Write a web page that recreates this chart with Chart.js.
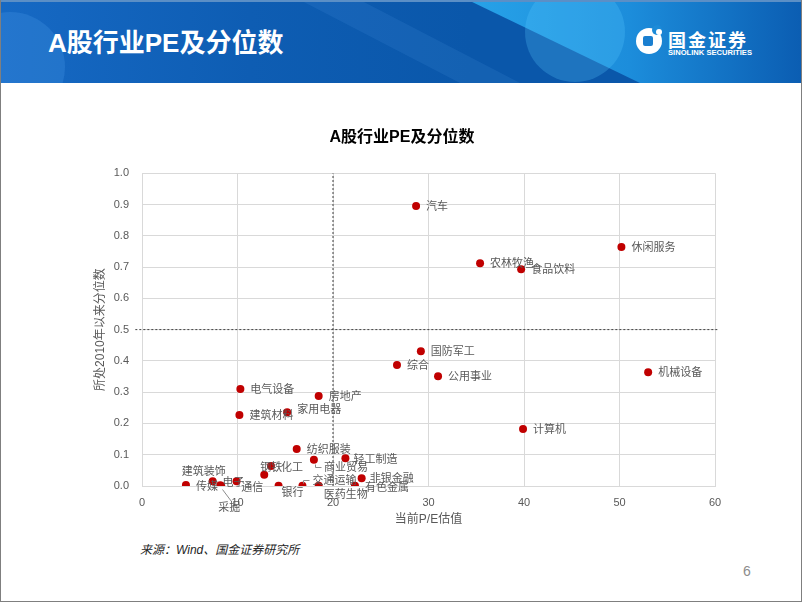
<!DOCTYPE html>
<html><head><meta charset="utf-8">
<script src="https://cdn.jsdelivr.net/npm/chart.js@4.4.1/dist/chart.umd.min.js"></script>
<style>
html,body{margin:0;padding:0;background:#fff;}
#slide{position:relative;width:802px;height:602px;overflow:hidden;background:#fff;}
#hdr{position:absolute;left:0;top:0;width:802px;height:83px;overflow:hidden;
 background:linear-gradient(90deg,#1669c4 0px,#0e5db3 250px,#0a57aa 470px,#0a57aa 802px);}
.shape{position:absolute;left:0;top:0;width:802px;height:83px;}
#band{clip-path:polygon(468px 0,802px 0,802px 83px,640px 83px);
 background:linear-gradient(90deg,#0a58ad 0px,#27a2e8 470px,#1c8ddb 630px,#0b5db2 802px);}
#stripe{clip-path:polygon(300px 0,360px 0,520px 83px,460px 83px);background:rgba(120,190,255,0.10);}
#circ{position:absolute;left:525px;top:-18px;width:100px;height:100px;border-radius:50%;background:rgba(90,205,255,0.25);}
#circL{position:absolute;left:-45px;top:12px;width:110px;height:110px;border-radius:50%;background:rgba(70,150,230,0.30);}
#topline{position:absolute;left:0;top:0;width:802px;height:2px;background:#5b8fc6;}
#htitle{position:absolute;left:48px;top:24px;color:#fff;font:bold 26px "Liberation Sans","Noto Sans CJK SC",sans-serif;line-height:38px;white-space:nowrap;}
#logoC{position:absolute;left:636px;top:28px;width:26px;height:26px;border-radius:50%;background:#fff;}
#logoS{position:absolute;left:643px;top:36px;width:10px;height:10px;border-radius:2px;background:#1a7fd0;}
#logoB{position:absolute;left:652px;top:25px;width:10px;height:10px;border-radius:50%;background:#1c8bd8;}
#logoD{position:absolute;left:656px;top:29px;width:6px;height:6px;border-radius:50%;background:#fff;}
#logoT{position:absolute;left:668px;top:28px;color:#fff;font:bold 18px "Noto Sans CJK SC",sans-serif;letter-spacing:2px;line-height:22px;white-space:nowrap;}
#logoE{position:absolute;left:668px;top:48px;color:#fff;font:bold 7.6px "Liberation Sans",sans-serif;line-height:9px;white-space:nowrap;}
#cv{position:absolute;left:0;top:90px;}
#src{position:absolute;left:140px;top:540px;font:italic 12px "Liberation Sans","Noto Sans CJK SC",sans-serif;color:#262626;white-space:nowrap;}
#pg{position:absolute;left:743px;top:563px;font:14px "Liberation Sans",sans-serif;color:#8c8c8c;}
#frame{position:absolute;left:0;top:0;width:802px;height:602px;box-sizing:border-box;border:1px solid #7f7f7f;border-top:none;pointer-events:none;}
</style></head>
<body>
<div id="slide">
 <div id="hdr">
  <div id="circL"></div>
  <div class="shape" id="stripe"></div>
  <div class="shape" id="band"></div>
  <div id="circ"></div>
  <div id="topline"></div>
  <div id="htitle">A股行业PE及分位数</div>
  <div id="logoC"></div><div id="logoS"></div><div id="logoB"></div><div id="logoD"></div>
  <div id="logoT">国金证券</div>
  <div id="logoE">SINOLINK SECURITIES</div>
 </div>
 <canvas id="cv" width="802" height="450"></canvas>
 <div id="src">来源：Wind、国金证券研究所</div>
 <div id="pg">6</div>
 <div id="frame"></div>
</div>
<script>
// ---- data ----
const industries = ['汽车','休闲服务','农林牧渔','食品饮料','国防军工','综合','公用事业','机械设备',
  '电气设备','房地产','建筑材料','家用电器','计算机','纺织服装','商业贸易','轻工制造','化工','钢铁',
  '传媒','建筑装饰','电子','通信','采掘','银行','交通运输','医药生物','有色金属','非银金融'];
const peValues = [28.7,50.2,35.4,39.7,29.2,26.7,31.0,53.0,
  10.3,18.5,10.2,15.2,39.9,16.2,18.0,21.3,13.5,12.8,
  4.6,7.4,9.9,8.2,8.3,14.3,16.8,18.5,22.3,23.0];
const percentiles = [0.895,0.764,0.712,0.693,0.431,0.387,0.351,0.364,
  0.310,0.288,0.227,0.236,0.182,0.118,0.084,0.089,0.064,0.036,
  0.003,0.015,0.015,0.002,0.000,0.001,0.001,0.001,0.001,0.025];
const xTicks = [0,10,20,30,40,50,60];
const yTicks = [0,0.1,0.2,0.3,0.4,0.5,0.6,0.7,0.8,0.9,1.0];
const refPE = 20;                 // vertical reference line (P/E)
const refPct = 0.5;               // horizontal reference line (percentile)
const refPctSpan = [-0.7, 60.3];  // x-extent of the horizontal reference series

// label placement (pixel offsets from the point), kept separate from the data
const labelOffsets = {
  '家用电器':[10,-3], '商业贸易':[10,7], '轻工制造':[8,1], '钢铁':[-4,-8], '化工':[10,1],
  '建筑装饰':[-31,-10], '电子':[-14,1], '通信':[21,1], '采掘':[-3,21], '银行':[3,6],
  '交通运输':[10,-6], '医药生物':[5,8], '有色金属':[10,1], '非银金融':[8,0], '传媒':[10,1]
};
const leaders = {
  '采掘':[[1,3],[10,15]],
  '商业贸易':[[1,4],[1,7],[7,7]],
  '交通运输':[[1,-3],[1,-6],[7,-6]]
};

const points = industries.map((n,i)=>({x:peValues[i], y:percentiles[i]}));

const labelPlugin = {
  id:'pointLabels',
  afterDatasetsDraw(chart){
    const ctx = chart.ctx;
    const meta = chart.getDatasetMeta(0);
    ctx.save();
    ctx.font = '11px "Noto Sans CJK SC", sans-serif';
    ctx.fillStyle = '#595959';
    ctx.textBaseline = 'middle';
    ctx.textAlign = 'left';
    ctx.strokeStyle = '#8c8c8c';
    ctx.lineWidth = 1;
    meta.data.forEach((el,i)=>{
      const name = industries[i];
      const o = labelOffsets[name] || [10,0];
      const L = leaders[name];
      if (L){
        ctx.beginPath();
        L.forEach((p,k)=>{ const px=Math.round(el.x+p[0])+0.5, py=Math.round(el.y+p[1])+0.5; k?ctx.lineTo(px,py):ctx.moveTo(px,py); });
        ctx.stroke();
      }
      ctx.fillText(name, el.x+o[0], el.y+o[1]);
    });
    ctx.restore();
  }
};

Chart.defaults.font.family = '"Liberation Sans", "Noto Sans CJK SC", sans-serif';
Chart.defaults.color = '#595959';

new Chart(document.getElementById('cv'), {
  type:'scatter',
  data:{
    datasets:[
      {label:'行业', data:points, backgroundColor:'#c00000', borderColor:'#c00000',
       pointRadius:4, pointHoverRadius:4, borderWidth:0},
      {label:'ref x', data:[{x:refPE,y:yTicks[0]},{x:refPE,y:yTicks[yTicks.length-1]}], showLine:true,
       borderColor:'#404040', borderWidth:1, borderDash:[2,2], pointRadius:0},
      {label:'ref y', data:[{x:refPctSpan[0],y:refPct},{x:refPctSpan[1],y:refPct}], showLine:true, clip:false,
       borderColor:'#404040', borderWidth:1, borderDash:[2,2], pointRadius:0}
    ]
  },
  options:{
    responsive:false, animation:false, devicePixelRatio:1,
    layout:{padding:{left:89, right:87, top:0, bottom:9}},
    plugins:{
      legend:{display:false}, tooltip:{enabled:false},
      title:{display:true, text:'A股行业PE及分位数', color:'#000',
        font:{size:16, weight:'bold', family:'"Liberation Sans", "Noto Sans CJK SC", sans-serif'},
        padding:{top:38, bottom:26}}
    },
    scales:{
      x:{type:'linear', min:xTicks[0], max:xTicks[xTicks.length-1],
        afterBuildTicks(s){ s.ticks = xTicks.map(v=>({value:v})); },
        afterFit(s){ s.height = 45; },
        grid:{color:'#d9d9d9', drawTicks:false}, border:{color:'#d9d9d9'},
        ticks:{padding:10, font:{size:11}, color:'#595959', callback:v=>String(v)},
        title:{display:true, text:'当前P/E估值', color:'#595959', font:{size:12}}
      },
      y:{type:'linear', min:yTicks[0], max:yTicks[yTicks.length-1],
        afterBuildTicks(s){ s.ticks = yTicks.map(v=>({value:v})); },
        afterFit(s){ s.width = 53; },
        grid:{color:'#d9d9d9', drawTicks:false}, border:{color:'#d9d9d9'},
        ticks:{padding:13, font:{size:11}, color:'#595959', callback:v=>Number(v).toFixed(1)},
        title:{display:true, text:'所处2010年以来分位数', color:'#595959', font:{size:12}}
      }
    }
  },
  plugins:[labelPlugin]
});
</script>
</body></html>
